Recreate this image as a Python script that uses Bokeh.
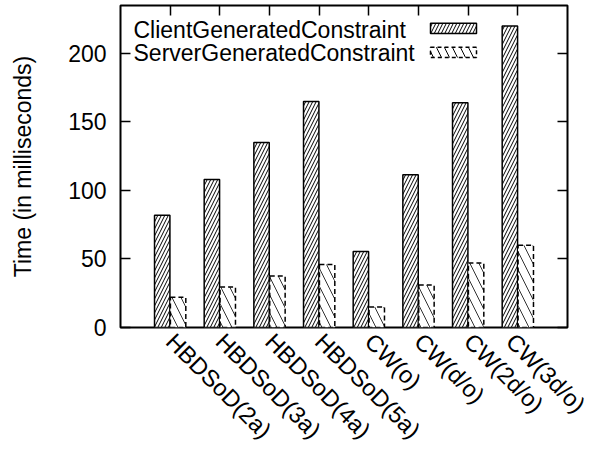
import math
from bokeh.plotting import figure
from bokeh.models import (ColumnDataSource, FactorRange, Range1d, FixedTicker,
                          LinearAxis, CategoricalAxis, Label, BoxAnnotation)
from bokeh.transform import dodge
from bokeh.embed import file_html
from bokeh.resources import INLINE

categories = ["HBDSoD(2a)", "HBDSoD(3a)", "HBDSoD(4a)", "HBDSoD(5a)",
              "CW(o)", "CW(d/o)", "CW(2d/o)", "CW(3d/o)"]
client_generated = [82, 108, 135, 165, 55.5, 111.5, 164, 220]
server_generated = [22, 29.5, 37.5, 46, 15, 31, 47, 60]
series_names = ["ClientGeneratedConstraint", "ServerGeneratedConstraint"]
y_ticks = [0, 50, 100, 150, 200]

FONT = "Liberation Sans"

source = ColumnDataSource(dict(cat=categories, client=client_generated,
                               server=server_generated))

p = figure(x_range=FactorRange(factors=categories, range_padding=1.0 / 8,
                               range_padding_units="percent"),
           y_range=Range1d(0, 235),
           frame_width=447, frame_height=322,
           min_border_left=120, min_border_right=23,
           min_border_top=5, min_border_bottom=5,
           output_backend="svg", toolbar_location=None)
p.xgrid.grid_line_color = None
p.ygrid.grid_line_color = None
p.outline_line_color = "black"
p.outline_line_width = 2
p.outline_line_alpha = 1.0
p.background_fill_color = "white"
p.border_fill_color = "white"

p.vbar(x=dodge("cat", -0.16, range=p.x_range), top="client", width=0.31,
       source=source, fill_color="white", line_color="black", line_width=1.5,
       hatch_pattern="/", hatch_scale=7, hatch_weight=1, hatch_color="black")
p.vbar(x=dodge("cat", 0.16, range=p.x_range), top="server", width=0.31,
       source=source, fill_color="white", line_color="black", line_width=1.5,
       line_dash="5 3",
       hatch_pattern="\\", hatch_scale=18, hatch_weight=1, hatch_color="black",
       hatch_alpha=0.8)

# left axis
ya = p.yaxis[0]
ya.ticker = FixedTicker(ticks=y_ticks)
ya.major_tick_in = 10
ya.major_tick_out = 0
ya.minor_tick_line_color = None
ya.major_tick_line_width = 1.5
ya.major_tick_line_color = "black"
ya.axis_line_color = None
ya.major_label_standoff = 14
ya.major_label_text_font = FONT
ya.major_label_text_font_size = "23px"
ya.major_label_text_color = "black"
ya.axis_label = "Time (in milliseconds)"
ya.axis_label_text_font = FONT
ya.axis_label_text_font_size = "23px"
ya.axis_label_text_font_style = "normal"
ya.axis_label_text_color = "black"
ya.axis_label_standoff = 29

# bottom axis
xa = p.xaxis[0]
xa.major_tick_in = 0
xa.major_tick_out = 0
xa.axis_line_color = None
xa.major_label_orientation = -math.pi / 4
xa.major_label_standoff = 10
xa.major_label_text_font = FONT
xa.major_label_text_font_size = "23.5px"
xa.major_label_text_color = "black"

# mirror ticks (top and right), no labels
top_axis = CategoricalAxis(major_tick_in=10, major_tick_out=0,
                           major_tick_line_width=1.5,
                           major_tick_line_color="black",
                           major_label_text_color=None,
                           major_label_standoff=0, axis_line_color=None)
p.add_layout(top_axis, "above")
right_axis = LinearAxis(ticker=FixedTicker(ticks=y_ticks), major_tick_in=10,
                        major_tick_out=0, major_tick_line_width=1.5,
                        major_tick_line_color="black",
                        minor_tick_line_color=None,
                        major_label_text_color=None,
                        major_label_standoff=0, axis_line_color=None)
p.add_layout(right_axis, "right")

# legend (text left, sample box right, as in the original)
legend_rows = [
    (series_names[0], 298.0, 304.3, 294.0, "/", 7, None),
    (series_names[1], 274.5, 280.3, 270.0, "\\", 16, "4 3"),
]
for name, base, btop, bbot, pat, scale, dash in legend_rows:
    p.add_layout(Label(x=13, y=base, x_units="screen", y_units="screen",
                       text=name, text_font=FONT, text_font_size="23px",
                       text_color="black", text_align="left",
                       text_baseline="alphabetic"))
    box = BoxAnnotation(left=310, right=356, top=btop, bottom=bbot,
                        left_units="screen", right_units="screen",
                        top_units="screen", bottom_units="screen",
                        fill_color="white", fill_alpha=1.0,
                        line_color="black", line_width=1.5, line_alpha=1.0,
                        hatch_pattern=pat, hatch_scale=scale, hatch_weight=1,
                        hatch_color="black")
    if dash:
        box.line_dash = dash
    p.add_layout(box)

open("out.html", "w").write(file_html(p, INLINE))
